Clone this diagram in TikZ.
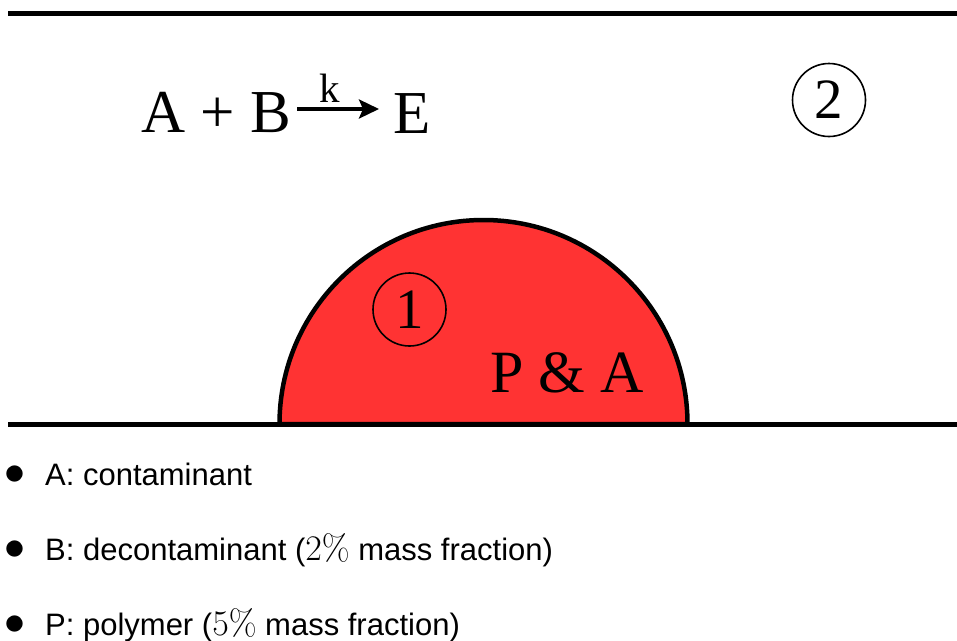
\RequirePackage{fix-cm}
\documentclass[tikz,border=0pt]{standalone}
\usepackage[no-math]{fontspec}
\setmainfont{Liberation Serif}
\newfontfamily\sansf{Liberation Sans}
\usetikzlibrary{arrows.meta}
\definecolor{dropred}{RGB}{255,51,51}
\newcommand{\bigpct}[1]{{\fontsize{36}{40}\selectfont$#1\%$}}
\tikzset{
  wall/.style={line width=5pt},
  bigserif/.style={inner sep=0pt, anchor=base west, font=\fontsize{61}{70}\selectfont},
  circled/.style={draw, circle, line width=1.6pt, inner sep=0pt, minimum size=73pt, font=\fontsize{57}{64}\selectfont},
  item/.style={inner sep=0pt, anchor=base west, font=\sansf\fontsize{31}{36}\selectfont},
  dot/.style={inner sep=0pt, font=\fontsize{42}{46}\selectfont}
}
\begin{document}
\begin{tikzpicture}[x=1pt,y=-1pt]
\useasboundingbox (0,0) rectangle (957,640);
% walls
\coordinate (tl) at (8,13.5);
\coordinate (tr) at (957,13.5);
\draw[wall] (tl) -- (tr);
% droplet
\filldraw[fill=dropred, draw=black, line width=4.5pt] (279.5,424) arc[start angle=180, end angle=0, x radius=204pt, y radius=204pt] -- cycle;
\coordinate (bl) at (8,424.5);
\coordinate (br) at (957,424.5);
\draw[wall] (bl) -- (br);
% reaction
\node[bigserif] (ab) at (141,132) {A + B};
\node[bigserif] (e) at (393,133) {E};
\coordinate (as) at (297,109);
\coordinate (ae) at (379,109);
\draw[line width=3.5pt, -{Stealth[length=20pt,width=19pt,inset=4pt]}] (as) -- (ae);
\node[inner sep=0pt, anchor=base, font=\fontsize{41}{46}\selectfont] (k) at (330,102) {k};
% circled numbers
\node[circled] (c2) at (829,100) {2};
\node[circled] (c1) at (409.5,309.5) {1};
\node[bigserif, font=\fontsize{60}{68}\selectfont] (pa) at (490,392) {P \& A};
% items
\node[dot] (d1) at (15.5,475) {$\bullet$};
\node[item] (i1) at (45,485) {A: contaminant};
\node[dot] (d2) at (15.5,550) {$\bullet$};
\node[item] (i2) at (45,560) {B: decontaminant (\bigpct{2} mass fraction)};
\node[dot] (d3) at (15.5,625) {$\bullet$};
\node[item] (i3) at (45,635) {P: polymer (\bigpct{5} mass fraction)};
\end{tikzpicture}
\end{document}
